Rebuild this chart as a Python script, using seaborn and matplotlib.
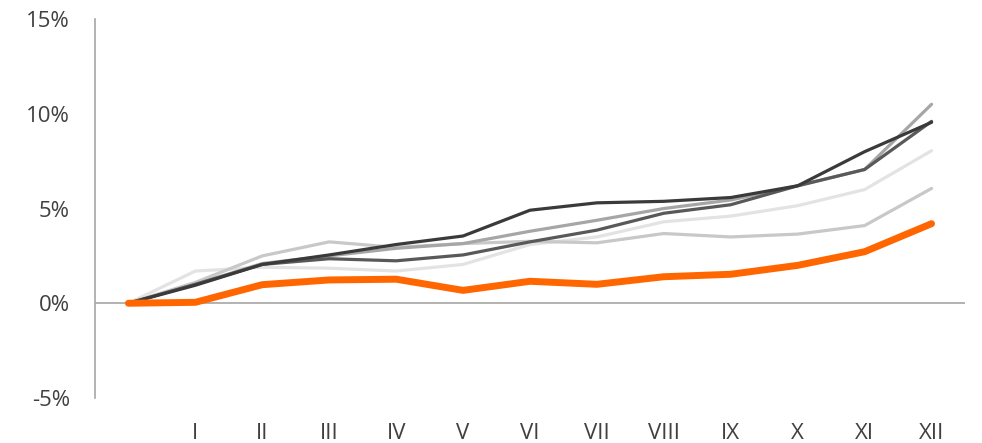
import numpy as np
import pandas as pd
import matplotlib
matplotlib.use("Agg")
import matplotlib.pyplot as plt
import seaborn as sns

# data (cumulative %, start point + 12 months)
steps = list(range(13))
month_labels = ["I", "II", "III", "IV", "V", "VI", "VII", "VIII", "IX", "X", "XI", "XII"]

very_light = [0, 1.70, 1.90, 1.85, 1.70, 2.05, 3.10, 3.50, 4.30, 4.60, 5.15, 6.00, 8.05]
light = [0, 1.10, 2.50, 3.24, 2.95, 3.15, 3.27, 3.19, 3.68, 3.50, 3.65, 4.10, 6.06]
mid = [0, 1.00, 2.10, 2.50, 2.90, 3.15, 3.80, 4.38, 5.00, 5.45, 6.20, 7.06, 10.50]
dark = [0, 1.00, 2.05, 2.35, 2.24, 2.55, 3.24, 3.86, 4.75, 5.20, 6.20, 7.06, 9.60]
darkest = [0, 0.95, 2.05, 2.55, 3.10, 3.55, 4.91, 5.30, 5.38, 5.58, 6.20, 8.00, 9.55]
highlight = [0, 0.05, 0.98, 1.23, 1.27, 0.68, 1.16, 1.00, 1.40, 1.53, 2.00, 2.72, 4.20]

sns.set_style("white")
plt.rcParams["font.family"] = ["Open Sans", "DejaVu Sans"]

fig = plt.figure(figsize=(9.82, 4.43), dpi=100)
ax = fig.add_axes([0.0967, 0.1016, 0.886, 0.8554])

# background series first, orange on top
series = [
    (very_light, "#e3e3e3", 2.3),
    (light, "#c8c8c8", 2.3),
    (mid, "#a6a6a6", 2.3),
    (dark, "#595959", 2.3),
    (darkest, "#3a3a3a", 2.3),
    (highlight, "#ff6600", 5.0),
]
for vals, col, lw in series:
    sns.lineplot(x=steps, y=vals, ax=ax, color=col, linewidth=lw,
                 solid_capstyle="round", solid_joinstyle="round")

ax.axhline(0, color="#a6a6a6", linewidth=1.2, zorder=0)

ax.set_xlim(-0.5, 12.5)
ax.set_ylim(-5, 15)
ax.set_yticks([-5, 0, 5, 10, 15])
ax.set_yticklabels([f"{v}%" for v in [-5, 0, 5, 10, 15]])
ax.set_xticks(steps[1:])
ax.set_xticklabels(month_labels)

for s in ["top", "right", "bottom"]:
    ax.spines[s].set_visible(False)
ax.spines["left"].set_color("#a6a6a6")
ax.spines["left"].set_linewidth(1.2)

ax.tick_params(axis="both", length=0, labelsize=16, colors="#404040")
ax.tick_params(axis="y", pad=18)
ax.tick_params(axis="x", pad=18)
ax.set_xlabel("")
ax.set_ylabel("")
ax.grid(False)

fig.savefig("out.png", dpi=100)
